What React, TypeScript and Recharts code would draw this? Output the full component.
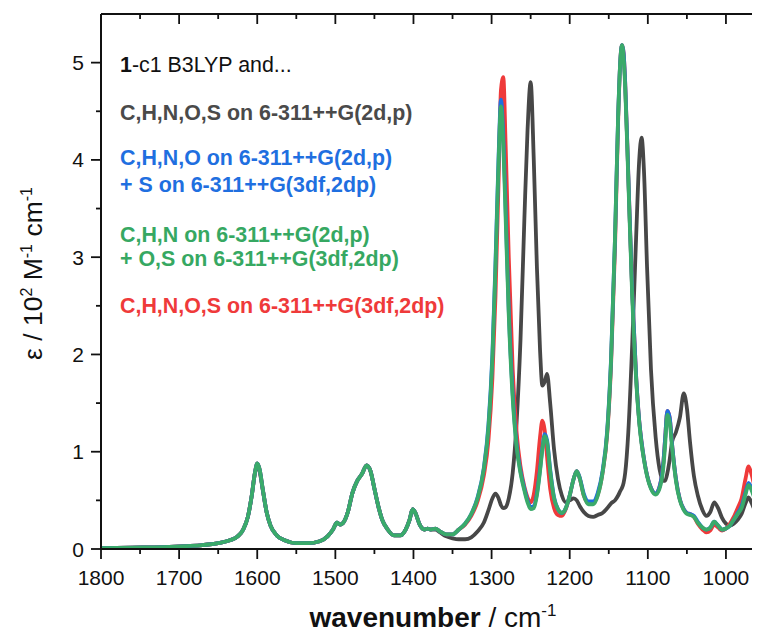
import React from "react";
import { LineChart, Line, XAxis, YAxis } from "recharts";

// wavenumber grid (cm-1), high to low as drawn
const wavenumbers = [
  1800, 1760, 1720, 1690, 1670, 1650, 1635, 1625, 1618, 1612, 1607, 1603, 1600, 1597, 1593, 1588, 1583, 1575, 1565, 1550,
  1535, 1520, 1510, 1503, 1498, 1494, 1489, 1484, 1478, 1472, 1466, 1460, 1455, 1450, 1445, 1440, 1433, 1425, 1417, 1410,
  1405, 1401, 1397, 1392, 1386, 1382, 1378, 1372, 1366, 1358, 1350, 1342, 1334, 1326, 1318, 1310, 1304, 1299, 1295, 1291,
  1288, 1285, 1282, 1278, 1273, 1268, 1263, 1258, 1254, 1250, 1246, 1242, 1238, 1235, 1232, 1229, 1225, 1220, 1215, 1210,
  1205, 1200, 1195, 1191, 1187, 1182, 1176, 1170, 1164, 1158, 1152, 1147, 1142, 1138, 1135, 1133, 1131, 1129, 1125, 1120,
  1115, 1111, 1108, 1105, 1101, 1096, 1090, 1085, 1080, 1078, 1075, 1072, 1069, 1064, 1059, 1054, 1050, 1046, 1041, 1036,
  1030, 1025, 1020, 1015, 1010, 1005, 1000, 995, 990, 985, 980, 975, 971, 967, 962, 957, 950,
];

// C,H,N,O,S on 6-311++G(2d,p)
const grayValues = [
  0.01, 0.015, 0.02, 0.03, 0.04, 0.06, 0.09, 0.13, 0.2, 0.33, 0.55, 0.78, 0.86, 0.8, 0.61, 0.38, 0.24, 0.14, 0.09, 0.06,
  0.06, 0.08, 0.13, 0.2, 0.27, 0.25, 0.28, 0.38, 0.58, 0.7, 0.77, 0.86, 0.8, 0.62, 0.44, 0.3, 0.2, 0.14, 0.14, 0.2,
  0.3, 0.41, 0.36, 0.25, 0.2, 0.21, 0.2, 0.2, 0.17, 0.13, 0.11, 0.1, 0.1, 0.12, 0.18, 0.27, 0.4, 0.52, 0.57, 0.52,
  0.45, 0.42, 0.43, 0.52, 0.78, 1.3, 2.15, 3.4, 4.3, 4.8, 4.0, 2.9, 2.05, 1.68, 1.72, 1.8, 1.5, 1.02, 0.72, 0.55,
  0.48, 0.5, 0.52, 0.5, 0.44, 0.38, 0.34, 0.33, 0.35, 0.37, 0.42, 0.47, 0.5, 0.55, 0.6, 0.63, 0.68, 0.78, 1.2, 2.1,
  3.2, 4.0, 4.23, 3.9, 2.9, 1.85, 1.15, 0.82, 0.7, 0.7, 0.78, 0.92, 1.1, 1.2, 1.35, 1.6, 1.45, 1.1, 0.75, 0.55,
  0.4, 0.34, 0.38, 0.48, 0.42, 0.32, 0.26, 0.24, 0.26, 0.3, 0.36, 0.47, 0.53, 0.47, 0.38, 0.35, 0.4,
];

// C,H,N,O on 6-311++G(2d,p) + S on 6-311++G(3df,2dp)
const blueValues = [
  0.01, 0.015, 0.02, 0.03, 0.04, 0.06, 0.09, 0.13, 0.2, 0.33, 0.55, 0.78, 0.88, 0.82, 0.62, 0.38, 0.24, 0.14, 0.09, 0.06,
  0.06, 0.08, 0.13, 0.2, 0.27, 0.25, 0.28, 0.38, 0.58, 0.7, 0.77, 0.86, 0.8, 0.62, 0.44, 0.3, 0.2, 0.14, 0.14, 0.2,
  0.3, 0.41, 0.36, 0.25, 0.2, 0.21, 0.2, 0.21, 0.18, 0.15, 0.15, 0.2, 0.26, 0.36, 0.53, 0.83, 1.28, 2.0, 2.95, 4.05,
  4.62, 4.25, 3.5, 2.45, 1.6, 1.08, 0.8, 0.62, 0.5, 0.43, 0.44, 0.57, 0.82, 1.04, 1.18, 1.12, 0.82, 0.53, 0.41, 0.37,
  0.42, 0.55, 0.72, 0.8, 0.73, 0.57, 0.49, 0.49, 0.58, 0.8, 1.22, 1.97, 3.2, 4.45, 5.05, 5.18, 5.1, 4.8, 3.85, 2.65,
  1.78, 1.32, 1.1, 0.93, 0.76, 0.63, 0.57, 0.64, 0.9, 1.12, 1.42, 1.35, 1.08, 0.72, 0.51, 0.41, 0.37, 0.36, 0.34, 0.28,
  0.22, 0.2, 0.22, 0.28, 0.24, 0.2, 0.21, 0.24, 0.3, 0.37, 0.44, 0.58, 0.68, 0.62, 0.52, 0.5, 0.57,
];

// C,H,N on 6-311++G(2d,p) + O,S on 6-311++G(3df,2dp)
const greenValues = [
  0.01, 0.015, 0.02, 0.03, 0.04, 0.06, 0.09, 0.13, 0.2, 0.33, 0.55, 0.78, 0.88, 0.82, 0.62, 0.38, 0.24, 0.14, 0.09, 0.06,
  0.06, 0.08, 0.13, 0.2, 0.27, 0.25, 0.28, 0.38, 0.58, 0.7, 0.77, 0.86, 0.8, 0.62, 0.44, 0.3, 0.2, 0.14, 0.14, 0.2,
  0.3, 0.41, 0.36, 0.25, 0.2, 0.21, 0.2, 0.21, 0.18, 0.15, 0.15, 0.2, 0.26, 0.36, 0.52, 0.82, 1.25, 1.95, 2.9, 4.0,
  4.55, 4.15, 3.4, 2.4, 1.55, 1.05, 0.78, 0.6, 0.48, 0.41, 0.42, 0.55, 0.8, 1.02, 1.16, 1.1, 0.8, 0.52, 0.41, 0.37,
  0.42, 0.55, 0.72, 0.8, 0.72, 0.55, 0.46, 0.46, 0.55, 0.78, 1.2, 1.95, 3.2, 4.45, 5.05, 5.18, 5.05, 4.75, 3.8, 2.6,
  1.75, 1.3, 1.08, 0.92, 0.75, 0.62, 0.56, 0.62, 0.85, 1.05, 1.38, 1.3, 1.05, 0.7, 0.5, 0.4, 0.36, 0.35, 0.33, 0.27,
  0.22, 0.2, 0.22, 0.28, 0.24, 0.2, 0.21, 0.24, 0.3, 0.36, 0.42, 0.56, 0.66, 0.6, 0.5, 0.48, 0.55,
];

// C,H,N,O,S on 6-311++G(3df,2dp)
const redValues = [
  0.01, 0.015, 0.02, 0.03, 0.04, 0.06, 0.09, 0.13, 0.2, 0.33, 0.55, 0.78, 0.88, 0.82, 0.62, 0.38, 0.24, 0.14, 0.09, 0.06,
  0.06, 0.08, 0.13, 0.2, 0.27, 0.25, 0.28, 0.38, 0.58, 0.7, 0.77, 0.86, 0.8, 0.62, 0.44, 0.3, 0.2, 0.14, 0.14, 0.2,
  0.3, 0.41, 0.36, 0.25, 0.2, 0.21, 0.2, 0.21, 0.18, 0.15, 0.15, 0.2, 0.25, 0.34, 0.49, 0.75, 1.12, 1.75, 2.6, 3.8,
  4.72, 4.85, 4.15, 3.0, 1.85, 1.2, 0.85, 0.64, 0.53, 0.48, 0.56, 0.8, 1.15, 1.32, 1.22, 0.95, 0.62, 0.42, 0.35, 0.34,
  0.41, 0.55, 0.72, 0.8, 0.72, 0.55, 0.47, 0.47, 0.56, 0.78, 1.18, 1.9, 3.1, 4.4, 5.05, 5.18, 5.1, 4.8, 3.85, 2.65,
  1.78, 1.32, 1.1, 0.93, 0.76, 0.63, 0.57, 0.64, 0.9, 1.12, 1.42, 1.35, 1.08, 0.72, 0.51, 0.41, 0.37, 0.36, 0.33, 0.26,
  0.2, 0.17, 0.19, 0.25, 0.22, 0.19, 0.21, 0.26, 0.33, 0.42, 0.52, 0.72, 0.85, 0.76, 0.6, 0.55, 0.62,
];

const xTicks = [1800, 1750, 1700, 1650, 1600, 1550, 1500, 1450, 1400, 1350, 1300, 1250, 1200, 1150, 1100, 1050, 1000];
const yTicks = [0, 0.5, 1, 1.5, 2, 2.5, 3, 3.5, 4, 4.5, 5];

const legendBlocks = [
  { color: "#4a4a4a", lines: ["C,H,N,O,S on 6-311++G(2d,p)"], y: 120, gap: 0 },
  { color: "#1f6fe0", lines: ["C,H,N,O on 6-311++G(2d,p)", "+ S on 6-311++G(3df,2dp)"], y: 165, gap: 27 },
  { color: "#36a862", lines: ["C,H,N on 6-311++G(2d,p)", "+ O,S on 6-311++G(3df,2dp)"], y: 242, gap: 24 },
  { color: "#ef3a3a", lines: ["C,H,N,O,S on 6-311++G(3df,2dp)"], y: 313, gap: 0 },
];

const FONT = '"Liberation Sans", Arial, Helvetica, sans-serif';
const INK = "#111";

const data = wavenumbers.map((wn, i) => ({
  wn,
  gray: grayValues[i],
  blue: blueValues[i],
  green: greenValues[i],
  red: redValues[i],
}));

const isMajorX = (v: number) => v % 100 === 0;
const isMajorY = (v: number) => Number.isInteger(v);

const BottomTick = ({ x, y, payload }: any) => {
  const major = isMajorX(payload.value);
  return (
    <g>
      <line x1={x} x2={x} y1={y} y2={y + (major ? 10 : 5)} stroke={INK} strokeWidth={1.8} />
      {major && (
        <text x={x} y={y + 36} textAnchor="middle" fontSize={21} fontFamily={FONT} fill={INK}>
          {payload.value}
        </text>
      )}
    </g>
  );
};

const TopTick = ({ x, y, payload }: any) => {
  const major = isMajorX(payload.value);
  return <line x1={x} x2={x} y1={y} y2={y + (major ? 10 : 5)} stroke={INK} strokeWidth={1.8} />;
};

const LeftTick = ({ x, y, payload }: any) => {
  const major = isMajorY(payload.value);
  return (
    <g>
      <line x1={x - (major ? 10 : 5)} x2={x} y1={y} y2={y} stroke={INK} strokeWidth={1.8} />
      {major && (
        <text x={x - 17} y={y + 7.5} textAnchor="end" fontSize={21} fontFamily={FONT} fill={INK}>
          {payload.value}
        </text>
      )}
    </g>
  );
};

const RightTick = ({ x, y, payload }: any) => {
  const major = isMajorY(payload.value);
  return <line x1={x - (major ? 10 : 5)} x2={x} y1={y} y2={y} stroke={INK} strokeWidth={1.8} />;
};

const XTitle = ({ viewBox }: any) => {
  const cx = viewBox.x + viewBox.width / 2;
  return (
    <text x={cx} y={viewBox.y + 78} textAnchor="middle" fontSize={28} fontFamily={FONT} fill={INK}>
      <tspan fontWeight="bold">wavenumber</tspan>
      <tspan> / cm</tspan>
      <tspan dy={-11} fontSize={17}>-1</tspan>
    </text>
  );
};

const YTitle = ({ viewBox }: any) => {
  const cy = viewBox.y + viewBox.height / 2 - 8;
  return (
    <text
      transform={`translate(42, ${cy}) rotate(-90)`}
      textAnchor="middle"
      fontSize={26.5}
      fontFamily={FONT}
      fill={INK}
    >
      <tspan>ε / 10</tspan>
      <tspan dy={-10} fontSize={16}>2</tspan>
      <tspan dy={10}> M</tspan>
      <tspan dy={-10} fontSize={16}>-1</tspan>
      <tspan dy={10}> cm</tspan>
      <tspan dy={-10} fontSize={16}>-1</tspan>
    </text>
  );
};

const SpectraChart = () => {
  return (
    <div
      style={{
        position: "relative",
        width: 760,
        height: 635,
        margin: -8,
        overflow: "hidden",
        background: "#fff",
      }}
    >
      <LineChart width={766} height={635} data={data} margin={{ top: 13, right: 0, bottom: 0, left: 0 }}>
        <XAxis
          dataKey="wn"
          type="number"
          domain={[950, 1800]}
          reversed
          allowDataOverflow
          ticks={xTicks}
          interval={0}
          height={86}
          tickSize={0}
          tickMargin={0}
          tickLine={false}
          tick={<BottomTick />}
          axisLine={{ stroke: INK, strokeWidth: 2 }}
          label={<XTitle />}
        />
        <XAxis
          xAxisId="top"
          orientation="top"
          dataKey="wn"
          type="number"
          domain={[950, 1800]}
          reversed
          allowDataOverflow
          ticks={xTicks}
          interval={0}
          height={1}
          tickSize={0}
          tickMargin={0}
          tickLine={false}
          tick={<TopTick />}
          axisLine={{ stroke: INK, strokeWidth: 2 }}
        />
        <YAxis
          type="number"
          domain={[0, 5.5]}
          allowDataOverflow
          ticks={yTicks}
          interval={0}
          width={101}
          tickSize={0}
          tickMargin={0}
          tickLine={false}
          tick={<LeftTick />}
          axisLine={{ stroke: INK, strokeWidth: 2 }}
          label={<YTitle />}
        />
        <YAxis
          yAxisId="right"
          orientation="right"
          type="number"
          domain={[0, 5.5]}
          allowDataOverflow
          ticks={yTicks}
          interval={0}
          width={1}
          tickSize={0}
          tickMargin={0}
          tickLine={false}
          tick={<RightTick />}
          axisLine={{ stroke: INK, strokeWidth: 2 }}
        />
        <Line type="monotone" dataKey="gray" stroke="#474747" strokeWidth={3.8} dot={false} isAnimationActive={false} />
        <Line type="monotone" dataKey="red" stroke="#ef3a3a" strokeWidth={3.8} dot={false} isAnimationActive={false} />
        <Line type="monotone" dataKey="blue" stroke="#1f6fe0" strokeWidth={3.8} dot={false} isAnimationActive={false} />
        <Line type="monotone" dataKey="green" stroke="#3aaa6a" strokeWidth={3.8} dot={false} isAnimationActive={false} />
      </LineChart>

      {/* annotation block in the upper left of the plot */}
      <svg
        width={760}
        height={340}
        style={{ position: "absolute", left: 0, top: 0, pointerEvents: "none" }}
        fontFamily={FONT}
        fontSize={21.4}
      >
        <text x={120} y={72} fill={INK}>
          <tspan fontWeight="bold">1</tspan>
          <tspan>-c1 B3LYP and...</tspan>
        </text>
        {legendBlocks.map((block) =>
          block.lines.map((line, i) => (
            <text key={line} x={120} y={block.y + i * block.gap} fill={block.color} fontWeight="bold">
              {line}
            </text>
          ))
        )}
      </svg>
    </div>
  );
};

export default function App() {
  return <SpectraChart />;
}
